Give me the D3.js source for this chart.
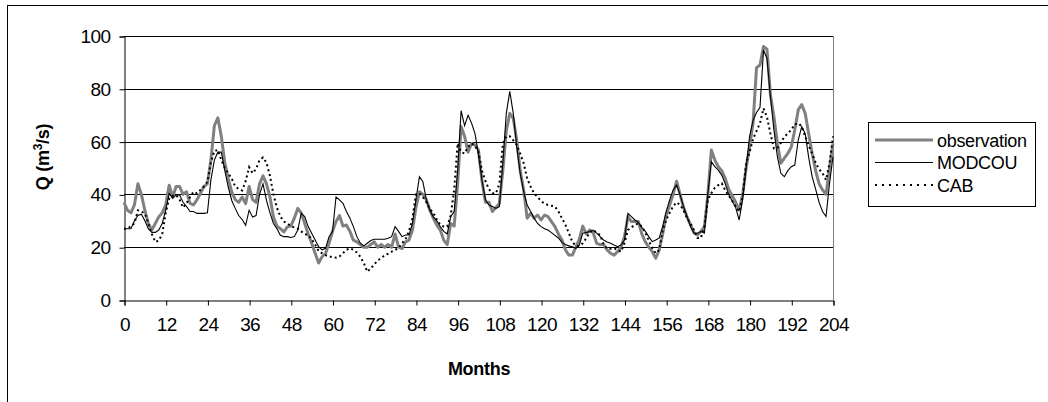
<!DOCTYPE html>
<html><head><meta charset="utf-8">
<script src="https://cdn.jsdelivr.net/npm/d3@7"></script>
<style>
body{margin:0;background:#fff;}
svg text{font-family:"Liberation Sans",Arial,sans-serif;}
</style></head>
<body>
<svg id="chart" width="1048" height="402"></svg>
<script>
const xTicks = [0,12,24,36,48,60,72,84,96,108,120,132,144,156,168,180,192,204];
const yTicks = [0,20,40,60,80,100];
const seriesNames = ["observation","MODCOU","CAB"];

const observation = [37,34,33,36,44,40,34,29,26.5,29,31.5,33,36,43.5,39,43,43,40,41,36.6,
36,38,40.4,43,44,53,66,69,62,52,46,41,38,37,39,36.5,43,38,37,44,
47,44,39,31.4,28,27,25.8,27.7,28,31,34.7,33,29,25,21.5,17.7,14,16.4,17.7,21.5,
26,29.7,32,28,28.4,26,22.7,22,21,20,20,21,22,20,21,20,21,20,25,20,
19.5,22,22.7,26.5,35,41,40,38,34,31,28.4,26.5,22.7,21,29,28,44,65.7,62,56,
59.3,58.7,56.8,45,37,37,33.5,35,36.6,49,64,70.7,68.8,60.6,49,41.7,31,32.8,31,32.2,
30.3,32.2,31.6,29.7,27.8,25,22.7,19,17,17,20,23,28,25,26.5,25.5,21.5,21,21,19,
17.7,17,18.3,20,24,31.6,29.7,29.7,29.7,25,22,20,18.3,15.8,19,25,32,36,40,45,
40,35,31.5,28.5,25.5,24.6,26,27.8,40,56.8,53,50.5,49,46,42,39.5,37,34,40,50,
58,67,88,89,96,95,77.7,69.4,59.3,51.8,53.7,55.5,58,64.4,72,74,70.7,63,55.5,49,
44,41.7,40,50,59.3];

const modcou = [27,27,27,30,32,32.5,30,27,25.6,25.6,26.5,29,34,40.4,38.5,39.8,39.8,37,35.4,33.5,
33.5,32.8,32.8,32.8,33,45.5,53,56,56,49,42.8,37.7,34.7,32,30.5,28.3,34,31.4,32,40,
44,37.7,33,29,27,24.5,24,24,23.7,24,26.5,32.8,31.6,27.8,25.3,22.7,20.2,19,19.6,24,
25.9,39,37.9,36.6,33.5,31,27.8,24,21.5,20.5,21.5,22.5,23,23,23,23,23.4,24,27.8,26,
24,24.6,24.6,29,38,46.7,44.8,37.9,34,31.5,30,27.8,26,25,31.6,33.5,49.2,71.7,66,70,
67,63,55,45.5,38,36,35.4,34.7,35.4,51.8,70.7,79,70.7,58,48,41,36,33.5,31,29,
27.8,27,26.5,25.5,24.5,23.5,21.8,21,20.5,20.2,19.6,20.8,25.3,25.6,25.9,26.5,25.3,24,22.7,22,
21.5,20.8,20.2,20.8,22.7,32.8,31.6,30.3,29.3,27.5,26,24,22.1,22.7,23.5,28,33.5,37.9,41.7,43.6,
39.8,35.4,31.6,27.8,25.3,25.3,25.9,25.3,40.4,52.4,50.5,49.2,47.3,44,40,37.5,35,30.3,38,50,
62,68,71,73,94.7,91.5,77,64.4,54.3,48,46.7,49,50.5,51.1,60.6,65.7,63,54,46.7,42,
37,33.5,31.6,44.2,54.3];

const cab = [27,27,28,29,34,33.5,32.8,29,25,22,22.5,25,33,38.5,39.5,39.8,38,35,36.6,39,
41,40.4,41.7,43,44.8,52,56.5,56.8,53,50,48,46,43,42,41.5,45,50.3,48,49.7,53,
54,52,47,40,35,31.6,29.7,29,28,27.5,27,26,25,24.6,23,21,18.5,17.7,17,16.4,
16.4,16,16.5,17.7,19,19.6,19,18,16.4,14,10.7,12,13.5,15,15.8,17,17.5,18.3,19,19.6,
21.5,23,26,31,40,40.4,39,37,34.5,33,30.5,28.5,27.8,27.8,32,41.7,59.3,56,55.5,58,
59.3,58.5,56,49,45,42,40.4,40.4,44,59.3,62,62,60.5,58.7,55.5,51.8,46,43,40.4,39,
37.5,36.5,36,35.7,35.4,33.5,31,28.5,25.3,22,20.5,20.5,21.5,23.4,25.5,26.5,25.5,24.6,21,19.5,
19.4,19.6,19,18.3,21.5,26.5,27.5,28.5,29,27.8,25.5,22.5,19.6,17.7,19,26.5,30.3,33,35.5,37,
36,34,31,29,26.5,23.5,23.5,28,37.9,40.5,42.5,43.5,44.2,41.5,39.5,37.5,35.4,33.5,39,51.8,
56,61,64,67,72.6,69.4,63,57.4,57.5,59.5,61.9,63,64.5,66.5,67,65.7,62,58.5,55.5,52,
49.5,48,45.5,51.8,62];

const svg = d3.select("#chart");
const pLeft = 124, pRight = 833, pTop = 36, pBottom = 300;
const x = d3.scaleLinear().domain([0,204]).range([pLeft,pRight]);
const y = d3.scaleLinear().domain([0,100]).range([pBottom,pTop]);

// outer chart border
svg.append("rect").attr("x",7.5).attr("y",5.5).attr("width",1100).attr("height",500)
  .attr("fill","none").attr("stroke","#000").attr("stroke-width",1);

// gridlines
svg.append("g").selectAll("line").data(yTicks.filter(d=>d>0)).join("line")
  .attr("x1",pLeft).attr("x2",pRight)
  .attr("y1",d=>Math.round(y(d))+0.5).attr("y2",d=>Math.round(y(d))+0.5)
  .attr("stroke","#000").attr("stroke-width",1);
// right border of plot
svg.append("line").attr("x1",pRight+0.5).attr("x2",pRight+0.5).attr("y1",pTop).attr("y2",pBottom)
  .attr("stroke","#808080");

// axes
const yAxis = d3.axisLeft(y).tickValues(yTicks).tickSize(5).tickPadding(9);
const gy = svg.append("g").attr("transform",`translate(${pLeft+0.5},0.5)`).call(yAxis);
const xAxis = d3.axisBottom(x).tickValues(xTicks).tickSize(5).tickPadding(12);
const gx = svg.append("g").attr("transform",`translate(0.5,${pBottom+0.5})`).call(xAxis);
[gx,gy].forEach(g=>{
  g.select(".domain").attr("stroke","#000");
  g.selectAll(".tick line").attr("stroke","#000");
  g.selectAll(".tick text").attr("font-size","19px").attr("fill","#000")
   .attr("font-family","Liberation Sans, Arial, sans-serif").style("letter-spacing","-0.6px");
});

// lines
const line = d3.line().x((d,i)=>x(i)).y(d=>y(d));
svg.append("path").datum(observation).attr("d",line).attr("fill","none")
  .attr("stroke","#808080").attr("stroke-width",3).attr("stroke-linejoin","round");
svg.append("path").datum(modcou).attr("d",line).attr("fill","none")
  .attr("stroke","#000").attr("stroke-width",1.1);
svg.append("path").datum(cab).attr("d",line).attr("fill","none")
  .attr("stroke","#000").attr("stroke-width",2).attr("stroke-dasharray","2,3");

// axis titles
svg.append("text").attr("x",479).attr("y",375).attr("text-anchor","middle")
  .attr("font-size","18px").attr("font-weight","bold").style("letter-spacing","-0.3px").text("Months");
const yt = svg.append("text").attr("transform","translate(49,157) rotate(-90)")
  .attr("text-anchor","middle").attr("font-size","18px").attr("font-weight","bold").style("letter-spacing","-0.3px");
yt.append("tspan").text("Q (m");
yt.append("tspan").attr("font-size","12px").attr("dy","-7").text("3");
yt.append("tspan").attr("dy","7").text("/s)");

// legend
const lg = svg.append("g");
lg.append("rect").attr("x",868.5).attr("y",122.5).attr("width",167).attr("height",84)
  .attr("fill","#fff").attr("stroke","#000");
const styles = [
  {stroke:"#808080",w:3,dash:null},
  {stroke:"#000",w:1.1,dash:null},
  {stroke:"#000",w:2,dash:"2,5"}
];
seriesNames.forEach((n,i)=>{
  const yy = 140 + i*22.5;
  lg.append("line").attr("x1",875).attr("x2",933).attr("y1",yy).attr("y2",yy)
    .attr("stroke",styles[i].stroke).attr("stroke-width",styles[i].w)
    .attr("stroke-dasharray",styles[i].dash);
  lg.append("text").attr("x",937).attr("y",yy+6.5).attr("font-size","18px")
    .style("letter-spacing","-0.3px").text(n);
});
</script>
</body></html>
